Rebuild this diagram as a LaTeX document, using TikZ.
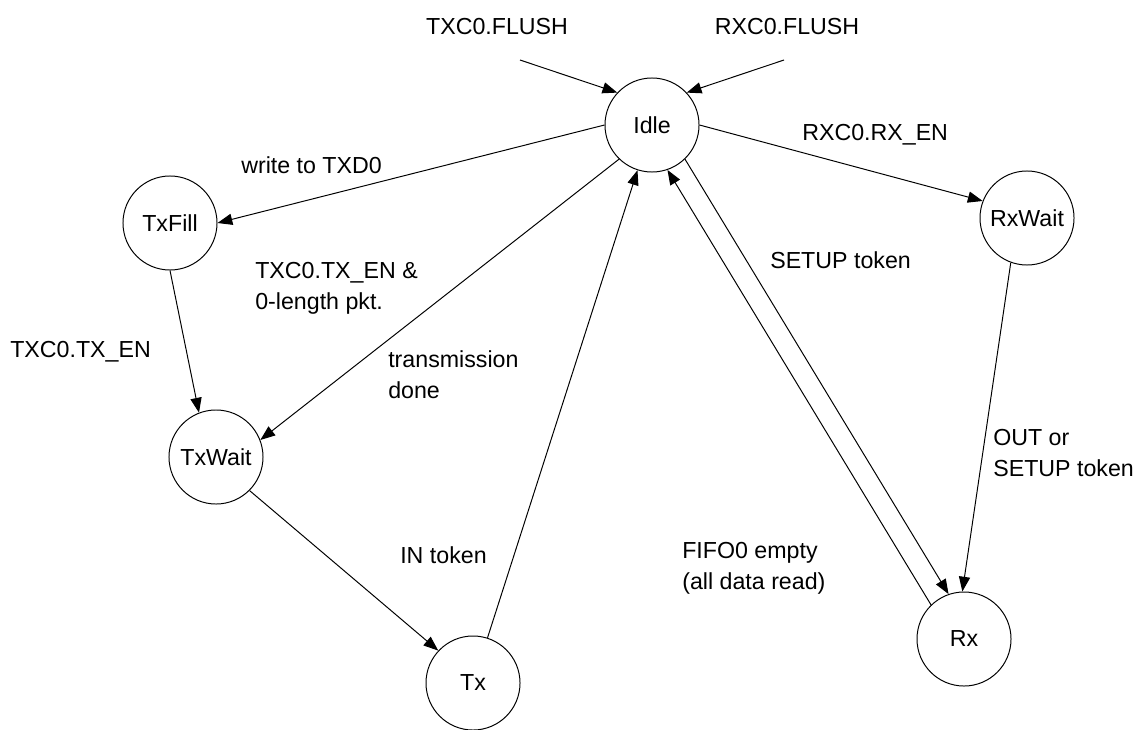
\documentclass[tikz,border=0pt]{standalone}
\usepackage{fontspec}
\setmainfont{Liberation Sans}
\usepackage{tikz}
\usetikzlibrary{shapes, arrows.meta, positioning, calc}

\begin{document}
\begin{tikzpicture}[
    x=0.025cm, y=-0.025cm,
    state/.style={circle, draw, line width=0.7pt, minimum size=2.35cm, inner sep=0pt, font=\fontsize{16.5}{22}\selectfont},
    lbl/.style={font=\fontsize{16.5}{22}\selectfont, inner sep=0pt, align=left},
    arrow/.style={-{Triangle[length=0.37cm, width=0.28cm]}, line width=0.7pt}
]
    \useasboundingbox (0,0) rectangle (1135,729);

    \node[state] (idle) at (652, 125) {Idle};
    \node[state] (txfill) at (170, 223) {TxFill};
    \node[state] (txwait) at (216, 457) {TxWait};
    \node[state] (tx) at (473, 683) {Tx};
    \node[state] (rxwait) at (1027, 218) {RxWait};
    \node[state] (rx) at (964, 639) {Rx};

    \coordinate (txflush) at (520, 60);
    \coordinate (rxflush) at (784, 60);

    \draw[arrow] (txflush) -- (idle.137);
    \draw[arrow] (rxflush) -- (idle.43);
    \draw[arrow] (idle.180) -- (txfill.0);
    \draw[arrow] (idle.226) -- (txwait.21);
    \draw[arrow] (idle.0) -- (rxwait.159);
    \draw[arrow] (txfill.270) -- (txwait.111);
    \draw[arrow] (txwait.-45) -- (tx.137);
    \draw[arrow] (tx) -- (idle);
    \draw[arrow] (rxwait.-110) -- (rx.92);
    \draw[arrow] (idle.-46) -- (rx.109);
    \draw[arrow] (rx.134) -- (idle.-71);

    \node[lbl] (l1) at (497, 27) {TXC0.FLUSH};
    \node[lbl] (l2) at (787, 27) {RXC0.FLUSH};
    \node[lbl, anchor=west] (l3) at (241, 165) {write to TXD0};
    \node[lbl, anchor=west] (l4) at (255, 288) {TXC0.TX\_EN \&\\0-length pkt.};
    \node[lbl, anchor=west] (l5) at (10, 352) {TXC0.TX\_EN};
    \node[lbl, anchor=west] (l6) at (802, 135) {RXC0.RX\_EN};
    \node[lbl, anchor=west] (l7) at (770, 260) {SETUP token};
    \node[lbl, anchor=west] (l8) at (388, 375) {transmission\\done};
    \node[lbl, anchor=west] (l9) at (400, 555) {IN token};
    \node[lbl, anchor=west] (l10) at (682, 568) {FIFO0 empty\\(all data read)};
    \node[lbl, anchor=west] (l11) at (993, 453) {OUT or\\SETUP token};
\end{tikzpicture}
\end{document}
